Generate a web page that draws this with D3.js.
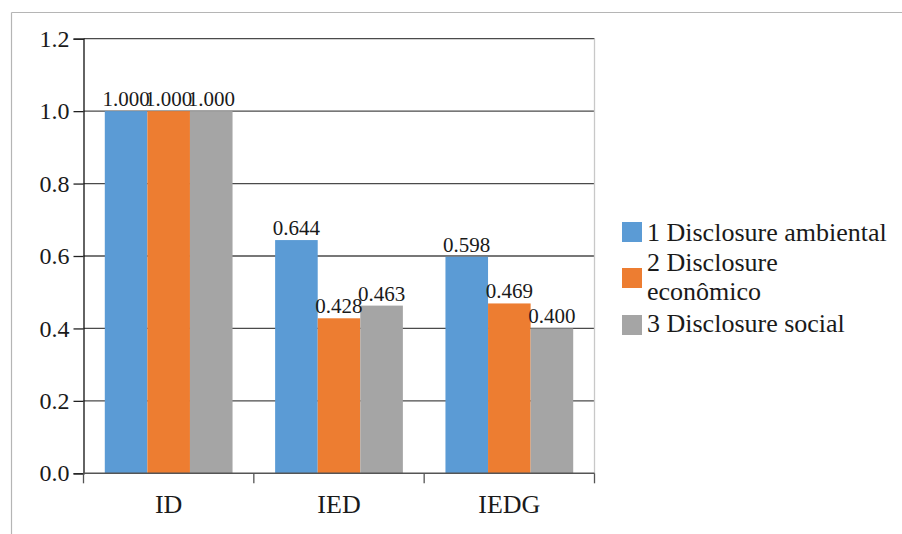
<!DOCTYPE html>
<html>
<head>
<meta charset="utf-8">
<script src="https://cdn.jsdelivr.net/npm/d3@7"></script>
<style>
  html, body { margin: 0; padding: 0; background: #fff; }
  svg { display: block; }
  svg text { font-family: 'Liberation Serif', Tinos, 'DejaVu Serif', serif !important; fill: #1a1a1a; }
</style>
</head>
<body>
<svg id="chart" width="902" height="534"></svg>
<script>
// Disclosure indices per category
const categories = ["ID", "IED", "IEDG"];
const seriesNames = ["1 Disclosure ambiental", "2 Disclosure econômico", "3 Disclosure social"];
const ambiental = [1.000, 0.644, 0.598];
const economico = [1.000, 0.428, 0.469];
const social = [1.000, 0.463, 0.400];
const yTicks = [0.0, 0.2, 0.4, 0.6, 0.8, 1.0, 1.2];
const colors = ["#5B9BD5", "#ED7D31", "#A5A5A5"];

const series = [ambiental, economico, social];
const svg = d3.select("#chart");

// outer frame lines
svg.append("line").attr("x1", 11.5).attr("x2", 11.5).attr("y1", 12.5).attr("y2", 534)
  .attr("stroke", "#b5b5b5").attr("stroke-width", 1.2);
svg.append("line").attr("x1", 11.5).attr("x2", 902).attr("y1", 12.5).attr("y2", 12.5)
  .attr("stroke", "#b5b5b5").attr("stroke-width", 1.2);

const plotLeft = 83.5, plotRight = 594.5, plotTop = 38.7, plotBottom = 473.3;

const x = d3.scaleBand().domain(categories).range([plotLeft, plotRight]).paddingInner(0).paddingOuter(0);
const xs = d3.scaleBand().domain(d3.range(series.length)).range([0, x.bandwidth()])
  .paddingInner(0).paddingOuter(0.5);
const y = d3.scaleLinear().domain([0, 1.2]).range([plotBottom, plotTop]);

// horizontal gridlines
svg.append("g").selectAll("line").data(yTicks.slice(1)).join("line")
  .attr("x1", plotLeft).attr("x2", plotRight)
  .attr("y1", d => y(d)).attr("y2", d => y(d))
  .attr("stroke", "#4a4a4a").attr("stroke-width", 1.3);

// right plot border
svg.append("line").attr("x1", plotRight).attr("x2", plotRight).attr("y1", plotTop).attr("y2", plotBottom)
  .attr("stroke", "#c8c8c8").attr("stroke-width", 1.3);

// bars
const groups = svg.append("g").selectAll("g").data(categories).join("g")
  .attr("transform", d => `translate(${x(d)},0)`);
groups.selectAll("rect").data((c, i) => series.map((s, k) => ({ k, v: s[i] }))).join("rect")
  .attr("x", d => xs(d.k))
  .attr("width", xs.bandwidth())
  .attr("y", d => y(d.v))
  .attr("height", d => y(0) - y(d.v))
  .attr("fill", d => colors[d.k]);

// value labels
groups.selectAll("text").data((c, i) => series.map((s, k) => ({ k, v: s[i] }))).join("text")
  .attr("x", d => xs(d.k) + xs.bandwidth() / 2)
  .attr("y", d => y(d.v) - 5)
  .attr("text-anchor", "middle")
  .attr("font-size", 21)
  .text(d => d.v.toFixed(3));

// y axis
const yAxis = svg.append("g").attr("transform", `translate(${plotLeft},0)`)
  .call(d3.axisLeft(y).tickValues(yTicks).tickFormat(d3.format(".1f")).tickSize(10).tickPadding(4));
yAxis.attr("font-family", null);
yAxis.select(".domain").attr("stroke", "#111").attr("stroke-width", 1.3);
yAxis.selectAll(".tick line").attr("stroke", "#222").attr("stroke-width", 1.3);
yAxis.selectAll(".tick text").attr("font-size", 24);

// x axis
const xAxis = svg.append("g").attr("transform", `translate(0,${plotBottom})`)
  .call(d3.axisBottom(x).tickSize(0).tickPadding(21));
xAxis.attr("font-family", null);
xAxis.select(".domain").remove();
xAxis.selectAll(".tick text").attr("font-size", 26);
svg.append("line").attr("x1", plotLeft).attr("x2", plotRight).attr("y1", plotBottom).attr("y2", plotBottom)
  .attr("stroke", "#555").attr("stroke-width", 1.5);
const bounds = categories.map(c => x(c)).concat([plotRight]);
svg.append("g").selectAll("line").data(bounds).join("line")
  .attr("x1", d => d).attr("x2", d => d)
  .attr("y1", plotBottom).attr("y2", plotBottom + 10)
  .attr("stroke", "#555").attr("stroke-width", 1.3);

// legend
const legendRows = [
  { lines: ["1 Disclosure ambiental"], k: 0, swatchY: 222, baseY: 240.5 },
  { lines: ["2 Disclosure", "econômico"], k: 1, swatchY: 268, baseY: 271 },
  { lines: ["3 Disclosure social"], k: 2, swatchY: 315, baseY: 332 }
];
const lg = svg.append("g");
legendRows.forEach(r => {
  lg.append("rect").attr("x", 622).attr("y", r.swatchY).attr("width", 20).attr("height", 20)
    .attr("fill", colors[r.k]);
  const t = lg.append("text").attr("x", 647).attr("y", r.baseY).attr("font-size", 26);
  r.lines.forEach((ln, i) => {
    t.append("tspan").attr("x", 647).attr("dy", i === 0 ? 0 : 29).text(ln);
  });
});
</script>
</body>
</html>
